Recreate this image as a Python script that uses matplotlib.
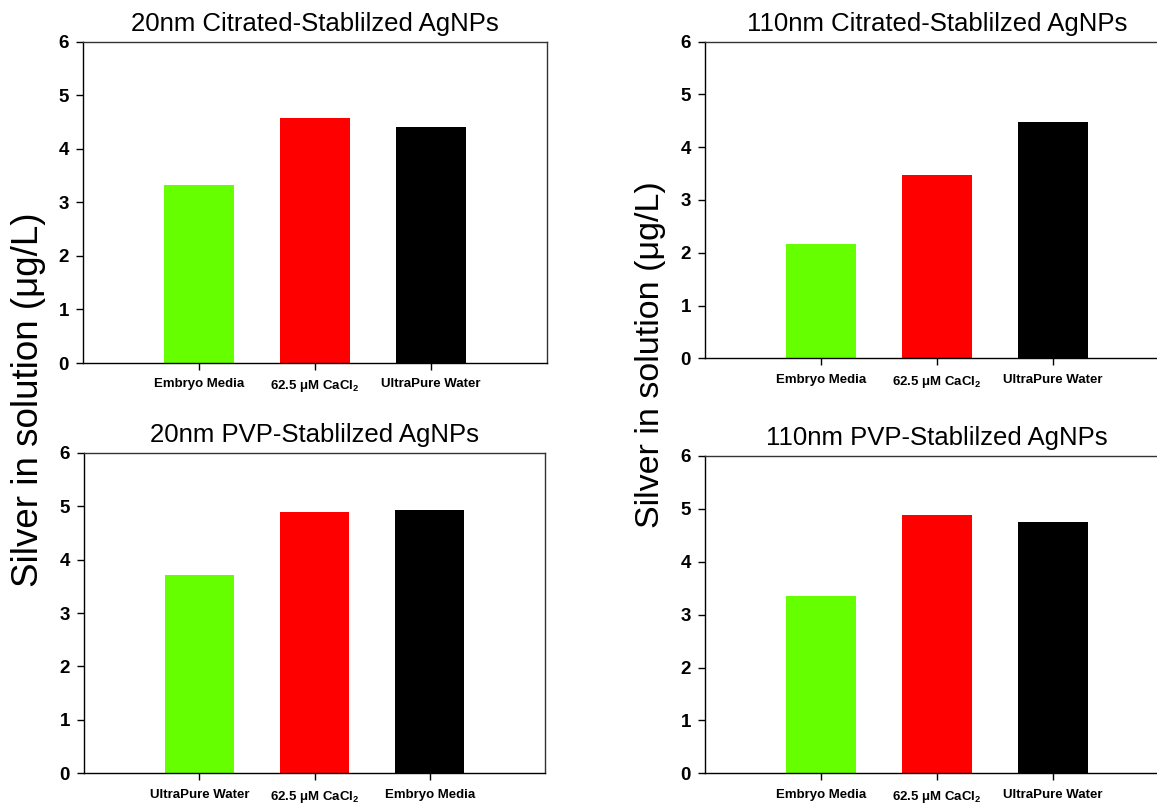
import numpy as np
import matplotlib
matplotlib.use("Agg")
import matplotlib.pyplot as plt

plt.rcParams["font.family"] = ["Liberation Sans", "DejaVu Sans"]
plt.rcParams["mathtext.fontset"] = "custom"
plt.rcParams["mathtext.rm"] = "Liberation Sans:bold"
plt.rcParams["mathtext.bf"] = "Liberation Sans:bold"
plt.rcParams["mathtext.it"] = "Liberation Sans:bold"

# data
titles = [
    "20nm Citrated-Stablilzed AgNPs",
    "110nm Citrated-Stablilzed AgNPs",
    "20nm PVP-Stablilzed AgNPs",
    "110nm PVP-Stablilzed AgNPs",
]
labels_tl = ["Embryo Media", "62.5 \u03bcM CaCl$_2$", "UltraPure Water"]
labels_tr = ["Embryo Media", "62.5 \u03bcM CaCl$_2$", "UltraPure Water"]
labels_bl = ["UltraPure Water", "62.5 \u03bcM CaCl$_2$", "Embryo Media"]
labels_br = ["Embryo Media", "62.5 \u03bcM CaCl$_2$", "UltraPure Water"]
values_tl = [3.33, 4.58, 4.40]
values_tr = [2.16, 3.48, 4.47]
values_bl = [3.72, 4.89, 4.93]
values_br = [3.36, 4.89, 4.76]
bar_colors = ["#66ff00", "#ff0000", "#000000"]

W, H = 1157, 806
fig = plt.figure(figsize=(W / 100, H / 100), dpi=100)


def add_ax(x0, x1, ytop, ybot):
    return fig.add_axes([x0 / W, 1 - ybot / H, (x1 - x0) / W, (ybot - ytop) / H])


# right column panels run past the picture's right edge (cropped, as in the source)
panels = [
    (add_ax(83, 547, 41.7, 363), titles[0], labels_tl, values_tl),
    (add_ax(705, 1169, 41.7, 358.3), titles[1], labels_tr, values_tr),
    (add_ax(84, 545, 452.7, 773.3), titles[2], labels_bl, values_bl),
    (add_ax(705, 1169, 456, 773.3), titles[3], labels_br, values_br),
]

for ax, title, labels, vals in panels:
    x = np.arange(len(vals))
    ax.bar(x, vals, width=0.6, color=bar_colors, edgecolor="none")
    ax.set_xlim(-1, 3)
    ax.set_ylim(0, 6)
    ax.set_yticks(range(7))
    ax.set_xticks(x)
    ax.set_xticklabels(labels, fontsize=9.5, fontweight="bold")
    for t in ax.get_yticklabels():
        t.set_fontsize(13.5)
        t.set_fontweight("bold")
    ax.tick_params(axis="both", direction="out", length=5, width=1, color="black")
    ax.tick_params(axis="x", pad=6)
    ax.tick_params(axis="y", pad=5)
    for s in ax.spines.values():
        s.set_linewidth(1.0)
        s.set_color("#333333")
    ax.spines["bottom"].set_color("black")
    ax.spines["left"].set_color("black")
    ax.set_title(title, fontsize=18.5, pad=8)

fig.text(29 / W, 1 - 400 / H, "Silver in solution (\u03bcg/L)", rotation=90,
         fontsize=26.5, ha="center", va="center")
fig.text(650 / W, 1 - 355 / H, "Silver in solution (\u03bcg/L)", rotation=90,
         fontsize=24.5, ha="center", va="center")

fig.savefig("out.png", dpi=100)
